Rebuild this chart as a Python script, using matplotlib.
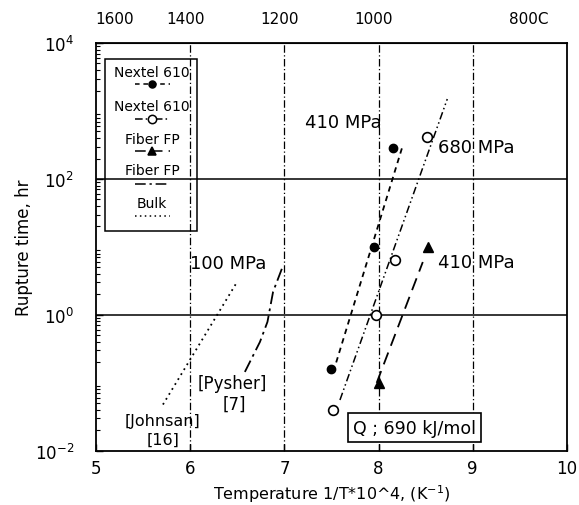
import matplotlib
matplotlib.use("Agg")
import matplotlib.pyplot as plt
from matplotlib.lines import Line2D
from matplotlib.patches import Rectangle

plt.rcParams['font.family'] = ['DejaVu Sans']

# ---------------- data ----------------
nextel410_x = [7.50, 7.95, 8.15]
nextel410_y = [0.16, 10.0, 290.0]
nextel410_fit_x = [7.55, 8.26]
nextel410_fit_y = [0.20, 320.0]

nextel680_x = [7.52, 7.97, 8.17, 8.51]
nextel680_y = [0.04, 1.0, 6.5, 420.0]
nextel680_fit_x = [7.59, 8.73]
nextel680_fit_y = [0.056, 1500.0]

fiberfp410_x = [8.00, 8.53]
fiberfp410_y = [0.10, 10.0]
fiberfp410_fit_x = [7.98, 8.47]
fiberfp410_fit_y = [0.10, 6.0]

pysher_x = [6.58, 6.74, 6.82, 6.88, 6.99]
pysher_y = [0.145, 0.40, 0.79, 2.2, 5.5]

johnson_x = [5.71, 6.50]
johnson_y = [0.048, 3.1]

xticks = [5, 6, 7, 8, 9, 10]
xtick_labels = ['5', '6', '7', '8', '9', '10']
yticks = [1e-2, 1e0, 1e2, 1e4]
ytick_labels = ['$10^{-2}$', '$10^{0}$', '$10^{2}$', '$10^{4}$']
top_tick_pos = [5.2, 5.95, 6.95, 7.95, 9.6]
top_tick_labels = ['1600', '1400', '1200', '1000', '800C']

legend_labels = ['Nextel 610', 'Nextel 610', 'Fiber FP', 'Fiber FP', 'Bulk']

# ---------------- figure ----------------
fig = plt.figure(figsize=(5.79, 5.06), dpi=100)
ax = fig.add_axes([0.166, 0.107, 0.813, 0.806])
ax.set_yscale('log')
ax.set_xlim(5, 10)
ax.set_ylim(1e-2, 1e4)

# grid lines
for gx in [6, 7, 8, 9]:
    ax.axvline(gx, color='black', lw=0.9, ls=(0, (6, 2, 1, 2)), zorder=1)
for gy in [1e0, 1e2]:
    ax.axhline(gy, color='black', lw=1.1, zorder=1)

# series
dash_short = (0, (3, 2.5))
dash_dot_dot = (0, (5, 2, 1, 2, 1, 2))
dash_long = (0, (7, 4))
dash_dot = (0, (7, 2.5, 1.5, 2.5))

ax.plot(nextel410_fit_x, nextel410_fit_y, color='black', lw=1.3, ls=dash_short)
ax.plot(nextel410_x, nextel410_y, 'o', color='black', ms=6, ls='none')

ax.plot(nextel680_fit_x, nextel680_fit_y, color='black', lw=1.1, ls=dash_dot_dot)
ax.plot(nextel680_x, nextel680_y, 'o', mfc='white', mec='black', mew=1.2, ms=7, ls='none')

ax.plot(fiberfp410_fit_x, fiberfp410_fit_y, color='black', lw=1.3, ls=dash_long)
ax.plot(fiberfp410_x, fiberfp410_y, '^', color='black', ms=7, ls='none')

ax.plot(pysher_x, pysher_y, color='black', lw=1.3, ls=dash_dot)
ax.plot(johnson_x, johnson_y, color='black', lw=1.3, ls=(0, (1, 2.2)))

# annotations
fs = 13
ax.text(7.22, 700, '410 MPa', fontsize=fs, ha='left', va='center')
ax.text(8.63, 295, '680 MPa', fontsize=fs, ha='left', va='center')
ax.text(8.63, 6.0, '410 MPa', fontsize=fs, ha='left', va='center')
ax.text(6.0, 5.8, '100 MPa', fontsize=fs, ha='left', va='center')
ax.text(6.45, 0.10, '[Pysher]', fontsize=12, ha='center', va='center')
ax.text(6.47, 0.049, '[7]', fontsize=12, ha='center', va='center')
ax.text(5.71, 0.028, '[Johnsan]', fontsize=11.5, ha='center', va='center')
ax.text(5.71, 0.0148, '[16]', fontsize=11.5, ha='center', va='center')
ax.text(8.38, 0.022, 'Q ; 690 kJ/mol', fontsize=12.5, ha='center', va='center',
        bbox=dict(boxstyle='square,pad=0.3', fc='white', ec='black', lw=1.2))

# axes styling
ax.set_xticks(xticks)
ax.set_xticklabels(xtick_labels, fontsize=12)
ax.set_yticks(yticks)
ax.set_yticklabels(ytick_labels, fontsize=12)
ax.tick_params(axis='both', which='major', direction='in', length=5, width=1)
ax.tick_params(axis='y', which='minor', direction='in', length=3, width=0.8)
ax.tick_params(axis='x', which='major', pad=6)
ax.tick_params(axis='y', which='major', pad=16)
for s in ax.spines.values():
    s.set_linewidth(1.3)
ax.set_xlabel('Temperature 1/T*10^4, (K$^{-1}$)', fontsize=11.5, labelpad=4)
ax.set_ylabel('Rupture time, hr', fontsize=12, labelpad=1)

sec = ax.secondary_xaxis('top')
sec.set_xticks(top_tick_pos)
sec.set_xticklabels(top_tick_labels, fontsize=11)
sec.tick_params(length=0, pad=12)

# custom legend (label above its handle)
ax.add_patch(Rectangle((0.019, 0.539), 0.195, 0.422, transform=ax.transAxes,
                       fill=False, ec='black', lw=1.1, zorder=3))
cx = 0.119
hw = 0.037
text_y = [0.929, 0.846, 0.765, 0.689, 0.608]
hand_y = [0.900, 0.814, 0.735, 0.654, 0.576]
styles = [
    dict(ls=dash_short, marker='o', mfc='black', mec='black', ms=5),
    dict(ls=dash_dot_dot, marker='o', mfc='white', mec='black', ms=6),
    dict(ls=dash_long, marker='^', mfc='black', mec='black', ms=6),
    dict(ls=dash_dot, marker=None),
    dict(ls=(0, (1, 2.2)), marker=None),
]
for lab, ty, hy, st in zip(legend_labels, text_y, hand_y, styles):
    ax.text(cx, ty, lab, transform=ax.transAxes, fontsize=10, ha='center', va='center', zorder=4)
    st = dict(st)
    mk = st.pop('marker')
    ax.add_line(Line2D([cx - hw, cx + hw], [hy, hy], transform=ax.transAxes,
                       color='black', lw=1.1, zorder=4, ls=st['ls']))
    if mk is not None:
        ax.add_line(Line2D([cx], [hy], transform=ax.transAxes, marker=mk, ls='none',
                           mfc=st['mfc'], mec=st['mec'], ms=st['ms'], mew=1.1, zorder=5))

fig.savefig('out.png', dpi=100)
